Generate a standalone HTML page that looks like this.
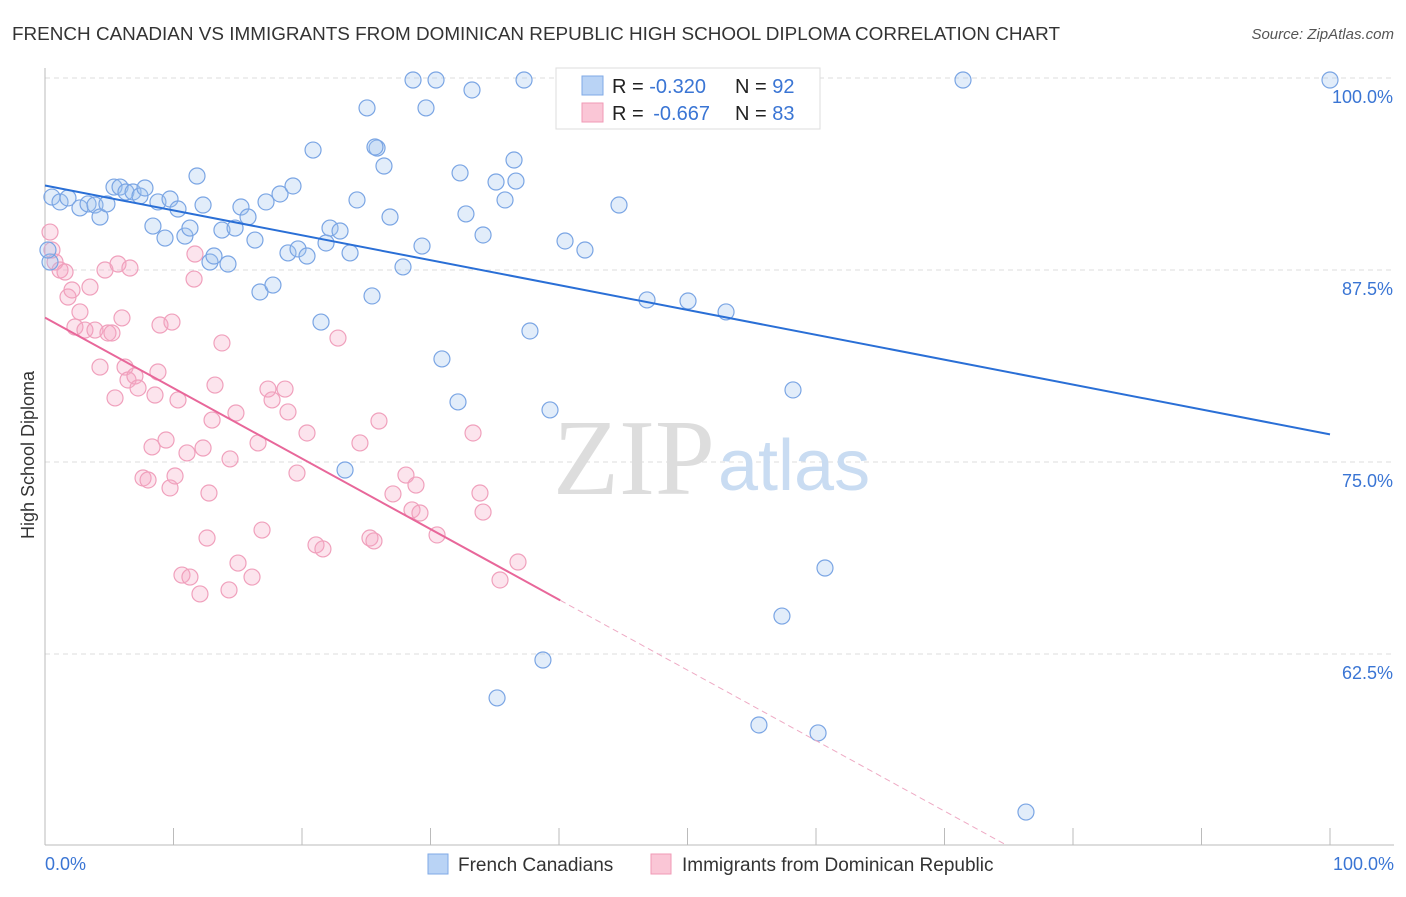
<!DOCTYPE html>
<html><head><meta charset="utf-8"><style>
body{margin:0;background:#fff;font-family:"Liberation Sans",sans-serif;}
</style></head><body>
<svg id="chart" width="1406" height="892" xmlns="http://www.w3.org/2000/svg" font-family="Liberation Sans, sans-serif">
<text x="12" y="40" font-size="18" fill="#333" textLength="1048" lengthAdjust="spacingAndGlyphs">FRENCH CANADIAN VS IMMIGRANTS FROM DOMINICAN REPUBLIC HIGH SCHOOL DIPLOMA CORRELATION CHART</text>
<text x="1394" y="39" font-size="15" fill="#555" text-anchor="end" font-style="italic">Source: ZipAtlas.com</text>
<g id="grid"></g>
<text x="553" y="494" font-size="108" fill="#ddd" font-family="Liberation Serif, serif">ZIP</text>
<text x="718" y="490" font-size="72" fill="#c9dcf2">atlas</text>
<text transform="translate(34,455) rotate(-90)" font-size="18" fill="#333" text-anchor="middle">High School Diploma</text>
<g id="marks"></g>
<g id="lines"></g>
<g>
<rect x="556" y="68" width="264" height="61" fill="#fff" stroke="#ddd"/>
<rect x="582" y="76" width="21" height="19" fill="#b9d3f5" stroke="#7fa9e6"/>
<rect x="582" y="103" width="21" height="19" fill="#fac6d6" stroke="#f09ab6"/>
<text x="612" y="93" font-size="20" fill="#222">R = <tspan fill="#3a75d4">-0.320</tspan><tspan x="735">N = </tspan><tspan fill="#3a75d4">92</tspan></text>
<text x="612" y="120" font-size="20" fill="#222">R = <tspan dx="4" fill="#3a75d4">-0.667</tspan><tspan x="735">N = </tspan><tspan fill="#3a75d4">83</tspan></text>
</g>
<g>
<rect x="428" y="854" width="20" height="20" fill="#b9d3f5" stroke="#7fa9e6"/>
<text x="458" y="871" font-size="19" fill="#333">French Canadians</text>
<rect x="651" y="854" width="20" height="20" fill="#fac6d6" stroke="#f09ab6"/>
<text x="682" y="871" font-size="19" fill="#333">Immigrants from Dominican Republic</text>
</g>
</svg>
<script>
const yTicks=[100,87.5,75,62.5];
const yTickLabels=["100.0%","87.5%","75.0%","62.5%"];
const xTickLabels=["0.0%","100.0%"];
const bluePx=[[52,197],[60,202],[68,198],[80,208],[88,204],[95,205],[100,217],[107,204],[114,187],[120,187],[126,192],[133,192],[140,196],[145,188],[153,226],[158,202],[165,238],[170,199],[178,209],[185,236],[190,228],[197,176],[203,205],[210,262],[214,256],[222,230],[228,264],[235,228],[241,207],[248,217],[255,240],[260,292],[266,202],[273,285],[280,194],[288,253],[293,186],[298,249],[307,256],[313,150],[321,322],[326,243],[330,228],[340,231],[350,253],[357,200],[367,108],[372,296],[377,148],[384,166],[390,217],[403,267],[413,80],[422,246],[426,108],[436,80],[442,359],[458,402],[460,173],[466,214],[472,90],[483,235],[497,698],[496,182],[505,200],[514,160],[516,181],[524,80],[530,331],[543,660],[550,410],[565,241],[585,250],[619,205],[647,300],[660,80],[688,301],[726,312],[759,725],[782,616],[793,390],[818,733],[825,568],[963,80],[1026,812],[1330,80],[345,470],[50,262],[48,250],[375,147]];
const pinkPx=[[50,232],[52,250],[55,262],[60,270],[65,272],[68,297],[72,290],[75,327],[80,312],[85,330],[90,287],[95,330],[100,367],[105,270],[108,333],[112,333],[115,398],[118,264],[122,318],[125,367],[128,380],[130,268],[135,376],[138,388],[143,478],[148,480],[152,447],[155,395],[158,372],[160,325],[166,440],[170,488],[172,322],[175,476],[178,400],[182,575],[187,453],[190,577],[194,279],[195,254],[200,594],[203,448],[207,538],[209,493],[212,420],[215,385],[222,343],[229,590],[230,459],[236,413],[238,563],[252,577],[258,443],[262,530],[268,389],[272,400],[285,389],[288,412],[297,473],[307,433],[316,545],[323,549],[338,338],[360,443],[370,538],[374,541],[379,421],[393,494],[406,475],[412,510],[416,485],[420,513],[437,535],[473,433],[480,493],[483,512],[500,580],[518,562]];
const blueX=bluePx.map(p=>+((p[0]-45)/12.85).toFixed(2));
const blueY=bluePx.map(p=>+(100-(p[1]-78)/15.36).toFixed(2));
const pinkX=pinkPx.map(p=>+((p[0]-45)/12.85).toFixed(2));
const pinkY=pinkPx.map(p=>+(100-(p[1]-78)/15.36).toFixed(2));
const blueTrend=[93.0,76.8];
const pinkTrend=[84.4,38.5];
const pinkSolidEnd=40.1;

const X=v=>45+v*12.85, Y=v=>78+(100-v)*15.36;
const NS="http://www.w3.org/2000/svg";
function mk(t,a,p){const e=document.createElementNS(NS,t);for(const k in a)e.setAttribute(k,a[k]);p.appendChild(e);return e;}
const grid=document.getElementById('grid');
yTicks.forEach((t,i)=>{
 const l=mk('line',{x1:45,x2:1394,y1:Y(t),y2:Y(t),stroke:'#ddd','stroke-dasharray':'5,4'},grid);
 
 
 const tx=mk('text',{x:1393,y:Y(t)+25,'font-size':18,fill:'#3a75d4','text-anchor':'end'},grid);
 tx.textContent=yTickLabels[i];
 
 
});
const ax=mk('line',{x1:45,x2:45,y1:68,y2:845,stroke:'#bbb'},grid);


const xa=mk('line',{x1:45,x2:1394,y1:845,y2:845,stroke:'#bbb'},grid);


for(let i=0;i<=10;i++){const t=mk('line',{x1:X(i*10),x2:X(i*10),y1:828,y2:845,stroke:'#bbb'},grid);
 
 }
[[0,45,'start'],[100,1394,'end']].forEach((d,i)=>{const t=mk('text',{x:d[1],y:870,'font-size':18,fill:'#3a75d4','text-anchor':d[2]},grid);t.textContent=xTickLabels[i];
 
 });
const marks=document.getElementById('marks');
pinkX.forEach((x,i)=>{const c=mk('circle',{cx:X(x),cy:Y(pinkY[i]),r:8,fill:'rgba(245,165,195,0.3)',stroke:'#f0a0bc','stroke-width':1.2},marks);
 
 });
blueX.forEach((x,i)=>{const c=mk('circle',{cx:X(x),cy:Y(blueY[i]),r:8,fill:'rgba(160,195,240,0.3)',stroke:'#7aa5e4','stroke-width':1.2},marks);
 
 });
const lines=document.getElementById('lines');
const bl=mk('line',{x1:X(0),y1:Y(blueTrend[0]),x2:X(100),y2:Y(blueTrend[1]),stroke:'#2a6fd6','stroke-width':2},lines);


const pAt=x=>pinkTrend[0]+(pinkTrend[1]-pinkTrend[0])*x/100;
const pl=mk('line',{x1:X(0),y1:Y(pinkTrend[0]),x2:X(pinkSolidEnd),y2:Y(pAt(pinkSolidEnd)),stroke:'#e8679a','stroke-width':2},lines);


const xEnd=(pinkTrend[0]-(100-(845-78)/15.36))/(pinkTrend[0]-pinkTrend[1])*100;
const pd=mk('line',{x1:X(pinkSolidEnd),y1:Y(pAt(pinkSolidEnd)),x2:X(xEnd),y2:845,stroke:'#eeaac4','stroke-width':1,'stroke-dasharray':'6,4'},lines);


</script>
</body></html>
